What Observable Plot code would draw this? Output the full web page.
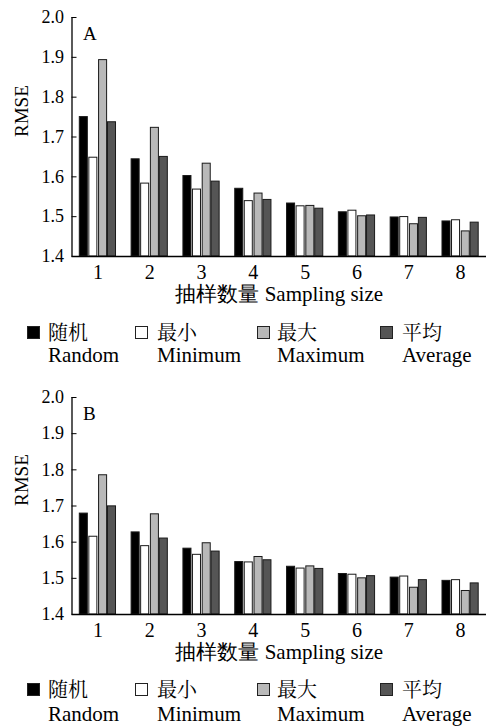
<!DOCTYPE html>
<html><head><meta charset="utf-8">
<script src="https://cdn.jsdelivr.net/npm/d3@7"></script>
<script src="https://cdn.jsdelivr.net/npm/@observablehq/plot@0.6"></script>
<style>
body{margin:0;background:#fff;}
#wrap{position:relative;width:489px;height:727px;font-family:"Liberation Serif","Times New Roman",Times,serif;color:#000;}
.pl{position:absolute;left:0;}
.sw{position:absolute;width:11px;height:11px;border:1px solid #222;}
.zh{position:absolute;font-family:"Liberation Serif","Noto Serif CJK SC","Noto Sans CJK SC",serif;font-size:20px;line-height:20px;white-space:nowrap;}
.en{position:absolute;font-size:21px;line-height:21px;white-space:nowrap;}
</style></head><body><div id="wrap"></div>
<script>
// ---- data ----
const sizes = [1, 2, 3, 4, 5, 6, 7, 8];
const seriesEn = ["Random", "Minimum", "Maximum", "Average"];
const seriesZh = ["随机", "最小", "最大", "平均"];
const yTicks = [1.4, 1.5, 1.6, 1.7, 1.8, 1.9, 2.0];
const xTitle = "抽样数量 Sampling size";
const yTitle = "RMSE";

const aRandom  = [1.750, 1.644, 1.602, 1.570, 1.533, 1.511, 1.498, 1.488];
const aMinimum = [1.648, 1.583, 1.568, 1.539, 1.526, 1.515, 1.499, 1.491];
const aMaximum = [1.893, 1.723, 1.633, 1.558, 1.527, 1.501, 1.481, 1.463];
const aAverage = [1.737, 1.650, 1.588, 1.542, 1.520, 1.503, 1.497, 1.485];

const bRandom  = [1.679, 1.627, 1.582, 1.545, 1.532, 1.512, 1.502, 1.493];
const bMinimum = [1.615, 1.589, 1.565, 1.544, 1.527, 1.510, 1.505, 1.495];
const bMaximum = [1.785, 1.677, 1.597, 1.559, 1.533, 1.500, 1.474, 1.465];
const bAverage = [1.699, 1.610, 1.574, 1.550, 1.526, 1.506, 1.495, 1.486];

// ---- styles ----
const fills = ["#000000", "#ffffff", "#b9b9b9", "#555555"];
const offsets = {Random: -0.272, Minimum: -0.088, Maximum: 0.1, Average: 0.272};
const bw = 0.155;

function table(series) {
  const rows = [];
  seriesEn.forEach((s, i) => sizes.forEach((n, j) => rows.push({size: n, series: s, value: series[i][j]})));
  return rows;
}

const wrap = document.getElementById("wrap");

function panel(letter, rows, plotH, top) {
  const chart = Plot.plot({
    width: 489, height: 17 + plotH + 60,
    marginTop: 17, marginBottom: 60, marginLeft: 71.5, marginRight: 3,
    style: {fontFamily: "'Liberation Serif', 'Times New Roman', Times, serif", background: "white", color: "#000", overflow: "visible"},
    x: {domain: [0.5, 8.5]},
    y: {domain: [1.4, 2.0]},
    color: {domain: seriesEn, range: fills},
    marks: [
      Plot.rectY(rows, {
        x1: d => d.size + offsets[d.series] - bw / 2,
        x2: d => d.size + offsets[d.series] + bw / 2,
        y1: 1.4, y2: "value", fill: "series", stroke: "#1a1a1a", strokeWidth: 1
      }),
      Plot.ruleY([1.4], {stroke: "#000", strokeWidth: 1.3}),
      Plot.ruleX([0.5], {stroke: "#000", strokeWidth: 1.3}),
      Plot.axisY({ticks: yTicks, tickSize: 0, tickPadding: 8, tickFormat: d3.format(".1f"), fontSize: 18, label: null}),
      Plot.axisY({ticks: yTicks, tickSize: -5, tickFormat: () => "", label: null}),
      Plot.axisX({ticks: sizes, tickSize: 0, tickPadding: 8, fontSize: 20, tickFormat: d => String(d), label: null}),
      Plot.text([xTitle], {frameAnchor: "bottom", dy: 44.5, fontSize: 21}),
      Plot.text([yTitle], {frameAnchor: "left", rotate: -90, dx: -50, fontSize: 19}),
      Plot.text([letter], {frameAnchor: "top-left", textAnchor: "start", lineAnchor: "top", dx: 11, dy: 9, fontSize: 19})
    ]
  });
  chart.classList.add("pl");
  chart.style.top = top + "px";
  wrap.appendChild(chart);
}

function legend(sqTop, enTop) {
  const sqLeft = [27, 135, 257, 380];
  const txLeft = [48, 157, 277, 402];
  seriesEn.forEach((s, i) => {
    const sw = document.createElement("div");
    sw.className = "sw";
    sw.style.left = sqLeft[i] + "px";
    sw.style.top = sqTop + "px";
    sw.style.background = fills[i];
    wrap.appendChild(sw);
    const zh = document.createElement("div");
    zh.className = "zh";
    zh.style.left = txLeft[i] + "px";
    zh.style.top = (sqTop - 3) + "px";
    zh.textContent = seriesZh[i];
    wrap.appendChild(zh);
    const en = document.createElement("div");
    en.className = "en";
    en.style.left = txLeft[i] + "px";
    en.style.top = enTop + "px";
    en.textContent = s;
    wrap.appendChild(en);
  });
}

panel("A", table([aRandom, aMinimum, aMaximum, aAverage]), 239, 0);
legend(326, 345);
panel("B", table([bRandom, bMinimum, bMaximum, bAverage]), 217, 380);
legend(683, 704);
</script></body></html>
